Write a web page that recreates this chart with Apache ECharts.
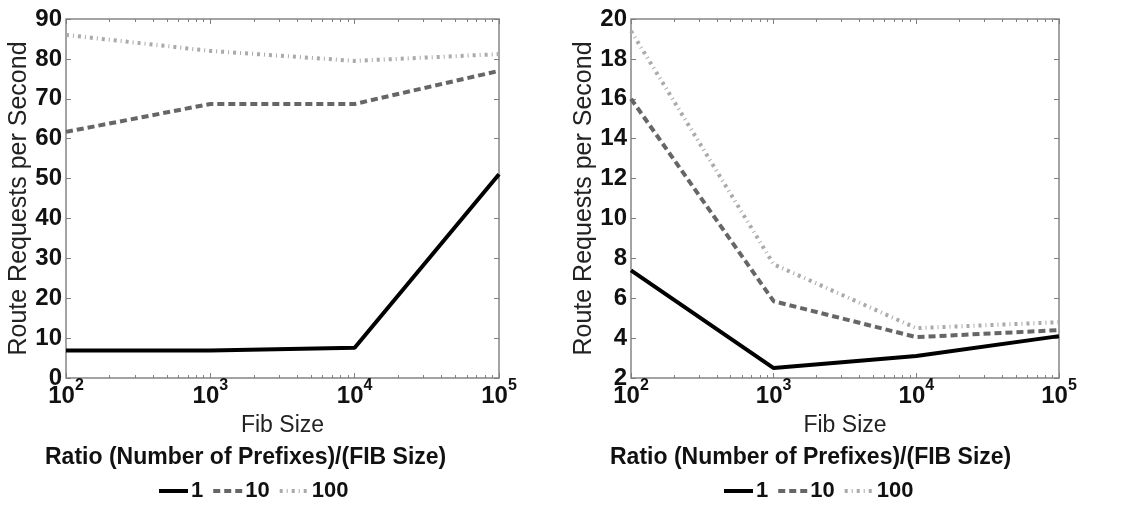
<!DOCTYPE html>
<html>
<head>
<meta charset="utf-8">
<script src="https://cdn.jsdelivr.net/npm/echarts@6/dist/echarts.min.js"></script>
<style>
html,body{margin:0;padding:0;background:#fff;}
#chart{width:1126px;height:507px;}
</style>
</head>
<body>
<div id="chart"></div>
<script>
// ---- data ----
const fibSizes = [100, 1000, 10000, 100000];
const seriesNames = ['1', '10', '100'];
const leftRatio1 = [6.9, 6.9, 7.6, 51.1];
const leftRatio10 = [61.7, 68.7, 68.7, 77.0];
const leftRatio100 = [86.0, 82.0, 79.5, 81.2];
const rightRatio1 = [7.4, 2.5, 3.1, 4.1];
const rightRatio10 = [16.0, 5.85, 4.05, 4.4];
const rightRatio100 = [19.4, 7.7, 4.5, 4.8];
const majorTickValues = [100, 1000, 10000, 100000];
const minorTickValues = [200,300,400,500,600,700,800,900,2000,3000,4000,5000,6000,7000,8000,9000,20000,30000,40000,50000,60000,70000,80000,90000];
const yAxisTitle = 'Route Requests per Second';
const xAxisTitle = 'Fib Size';
const legendTitle = 'Ratio (Number of Prefixes)/(FIB Size)';

const FONT = '"Liberation Sans", Arial, sans-serif';
const TICKCOL = '#7f7f7f';

const styles = [
  {color: '#000000', type: 'solid', width: 4},
  {color: '#666666', type: [7, 4], width: 4},
  {color: '#aaaaaa', type: [3, 4, 1, 4], width: 4}
];

function pairs(vals){ return fibSizes.map((x, i) => [x, vals[i]]); }

const grids = [
  {left: 66, right: 627, top: 19, bottom: 129, ymin: 0, ymax: 90, yint: 10, data: [leftRatio1, leftRatio10, leftRatio100]},
  {left: 631, right: 67, top: 19, bottom: 129, ymin: 2, ymax: 20, yint: 2, data: [rightRatio1, rightRatio10, rightRatio100]}
];

const option = {
  animation: false,
  backgroundColor: '#ffffff',
  textStyle: {fontFamily: FONT},
  grid: [], xAxis: [], yAxis: [], series: [], legend: [], title: []
};

grids.forEach((g, gi) => {
  option.grid.push({left: g.left, right: g.right, top: g.top, bottom: g.bottom, show: true, borderColor: '#858585', borderWidth: 1.5, containLabel: false});
  const base = {type: 'log', logBase: 10, min: 100, max: 100000, gridIndex: gi, splitLine: {show: false}, axisLine: {show: false}};
  option.xAxis.push(Object.assign({}, base, {
    position: 'bottom',
    name: xAxisTitle, nameLocation: 'middle', nameGap: 36,
    nameTextStyle: {fontSize: 23, color: '#222', fontFamily: FONT},
    axisTick: {show: true, inside: true, length: 5, lineStyle: {color: TICKCOL, width: 1}, customValues: majorTickValues},
    axisLabel: {
      show: true, margin: 0, customValues: majorTickValues,
      formatter: function(v){ return '{b|10}{s|' + Math.round(Math.log10(v)) + '}'; },
      rich: {
        b: {fontSize: 24, fontWeight: 'bold', color: '#111', fontFamily: FONT, lineHeight: 30, verticalAlign: 'bottom'},
        s: {fontSize: 16, fontWeight: 'bold', color: '#111', fontFamily: FONT, verticalAlign: 'top', lineHeight: 16}
      }
    }
  }));
  option.xAxis.push(Object.assign({}, base, {
    position: 'bottom',
    axisTick: {show: true, inside: true, length: 3, lineStyle: {color: TICKCOL, width: 1}, customValues: minorTickValues},
    axisLabel: {show: false}
  }));
  option.xAxis.push(Object.assign({}, base, {
    position: 'top',
    axisTick: {show: true, inside: true, length: 5, lineStyle: {color: TICKCOL, width: 1}, customValues: majorTickValues},
    axisLabel: {show: false}
  }));
  option.xAxis.push(Object.assign({}, base, {
    position: 'top',
    axisTick: {show: true, inside: true, length: 3, lineStyle: {color: TICKCOL, width: 1}, customValues: minorTickValues},
    axisLabel: {show: false}
  }));
  option.yAxis.push({
    type: 'value', gridIndex: gi, position: 'left', min: g.ymin, max: g.ymax, interval: g.yint,
    splitLine: {show: false}, axisLine: {show: false},
    axisTick: {show: true, inside: true, length: 5, lineStyle: {color: TICKCOL, width: 1}},
    axisLabel: {fontSize: 24, fontWeight: 'bold', color: '#111', margin: 4, fontFamily: FONT},
    name: yAxisTitle, nameLocation: 'middle', nameGap: 25, nameRotate: 90,
    nameTextStyle: {fontSize: 25, color: '#222', fontFamily: FONT}
  });
  option.yAxis.push({
    type: 'value', gridIndex: gi, position: 'right', min: g.ymin, max: g.ymax, interval: g.yint,
    splitLine: {show: false}, axisLine: {show: false},
    axisTick: {show: true, inside: true, length: 5, lineStyle: {color: TICKCOL, width: 1}},
    axisLabel: {show: false}
  });
  g.data.forEach((vals, si) => {
    option.series.push({
      type: 'line', name: seriesNames[si], xAxisIndex: gi * 4, yAxisIndex: gi * 2,
      data: pairs(vals), symbol: 'none', showSymbol: false,
      lineStyle: {color: styles[si].color, type: styles[si].type, width: styles[si].width, cap: 'butt'},
      itemStyle: {color: styles[si].color},
      z: 10 - si
    });
  });
  option.legend.push({
    data: seriesNames, left: gi === 0 ? 157 : 722, top: 480, orient: 'horizontal',
    itemWidth: 29, itemHeight: 14, itemGap: 8, padding: 0,
    itemStyle: {opacity: 0},
    lineStyle: {width: 4},
    textStyle: {fontSize: 22, fontWeight: 'bold', color: '#111', fontFamily: FONT, padding: [0, 0, 0, -2]}
  });
  option.title.push({
    text: legendTitle, left: gi === 0 ? 45 : 610, top: 446, padding: 0,
    textStyle: {fontSize: 23, fontWeight: 'bold', color: '#111', fontFamily: FONT}
  });
});

const chart = echarts.init(document.getElementById('chart'), null, {renderer: 'canvas'});
chart.setOption(option);
</script>
</body>
</html>
